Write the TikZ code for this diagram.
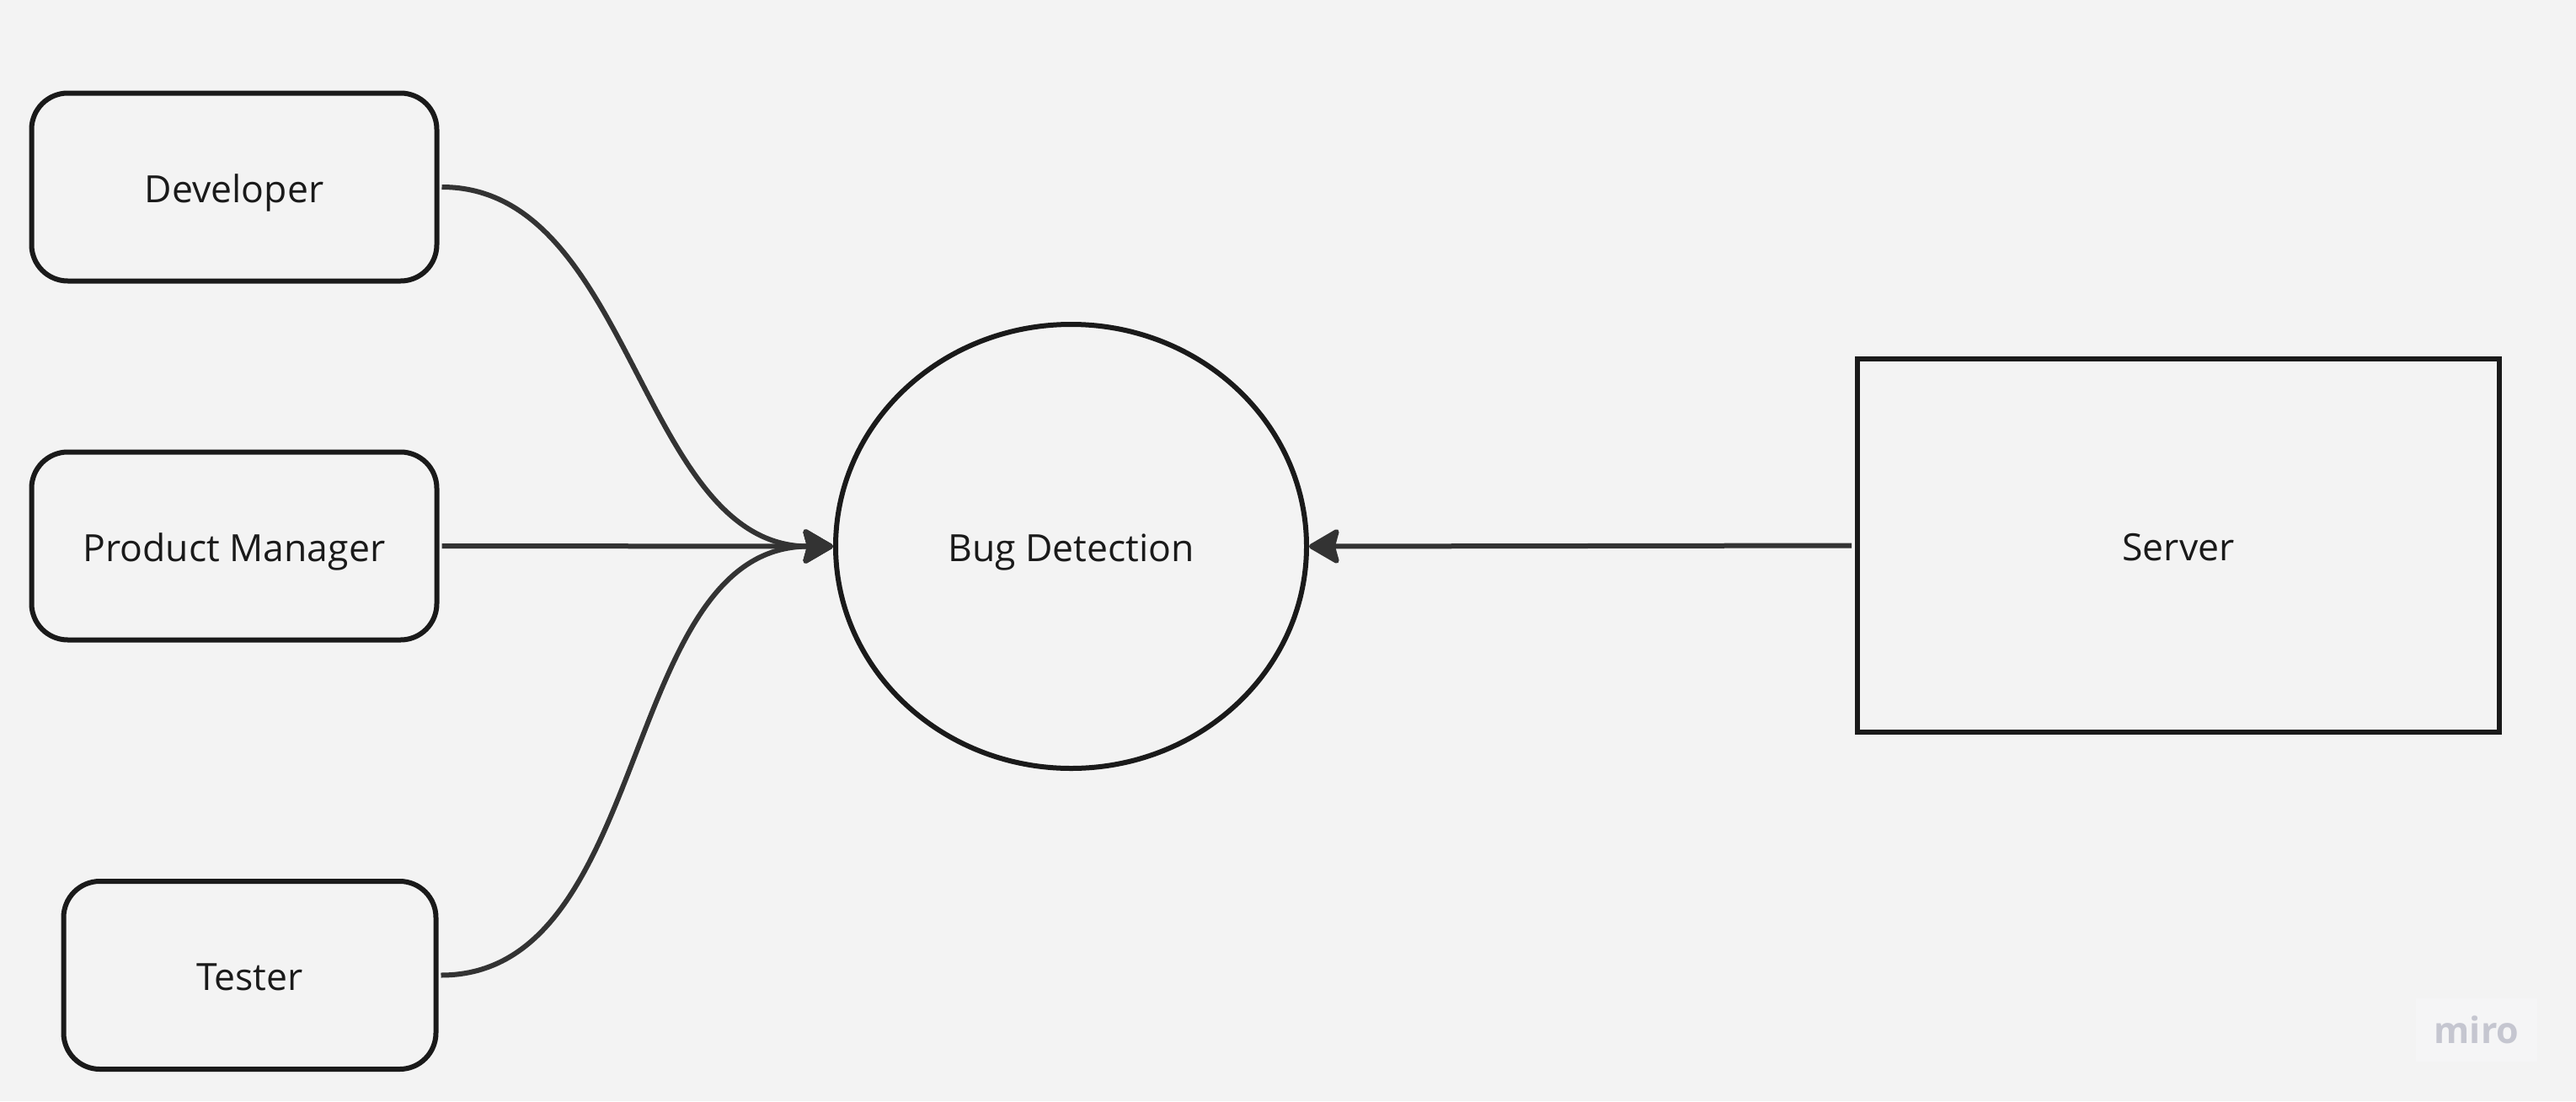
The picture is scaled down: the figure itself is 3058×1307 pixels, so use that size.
\documentclass[tikz,border=0pt]{standalone}
\usepackage{fontspec}
\setmainfont{Open Sans}
\usetikzlibrary{arrows.meta,shapes.geometric}
\definecolor{bgc}{HTML}{F3F3F3}
\definecolor{strokec}{HTML}{1A1A1A}
\definecolor{linkc}{HTML}{333333}
\definecolor{miroc}{HTML}{C5C6D0}
\definecolor{mirobox}{HTML}{F5F5F6}
\begin{document}
\begin{tikzpicture}[x=1pt,y=-1pt,
  lbl/.style={font=\fontsize{44.5}{53}\selectfont,text=strokec,text height=36pt,text depth=0pt},
  actor/.style={lbl,draw=strokec,line width=6pt,rounded corners=43pt,rectangle,
    minimum width=481pt,minimum height=223pt,inner sep=0pt},
  oval/.style={lbl,draw=strokec,line width=6pt,ellipse,minimum width=559pt,
    minimum height=527pt,inner sep=0pt},
  srv/.style={lbl,draw=strokec,line width=6pt,rectangle,minimum width=762pt,
    minimum height=443pt,inner sep=0pt},
  link/.style={draw=linkc,line width=6pt,
    -{Stealth[length=40pt,width=46pt,inset=6pt,round]}},
]
\fill[bgc] (0,0) rectangle (3058,1307);
\useasboundingbox (0,0) rectangle (3058,1307);

\node[actor] (dev) at (278,222) {Developer};
\node[actor] (pm) at (278,648) {Product Manager};
\node[actor,minimum width=442pt] (test) at (296.5,1157.5) {Tester};
\node[oval] (bug) at (1271.5,648.5) {Bug Detection};
\node[srv] (srv) at (2586,647.5) {Server};

\draw[link,shorten <=3pt] (dev.east) .. controls +(230,0) and +(-230,0) .. (bug.west);
\draw[link,shorten <=3pt] (test.east) .. controls +(255,0) and +(-255,0) .. (bug.west);
\draw[link,shorten <=3pt] (pm.east) -- (bug.west);
\draw[link,shorten <=4pt] (srv.west) -- (bug.east);

\node[fill=mirobox,minimum width=144pt,minimum height=75pt,inner sep=0pt,
  text=miroc,font=\fontsize{43}{50}\selectfont\bfseries] (miro) at (2940,1222.5) {miro};
\end{tikzpicture}
\end{document}
